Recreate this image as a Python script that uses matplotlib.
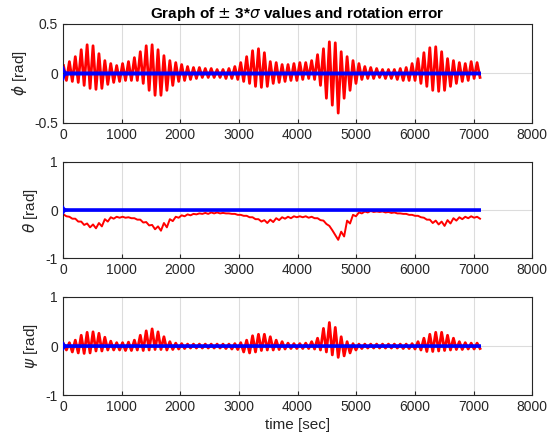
import numpy as np
import matplotlib
matplotlib.use("Agg")
import matplotlib.pyplot as plt

plt.rcParams['font.family'] = ['Liberation Sans', 'DejaVu Sans']
plt.rcParams['mathtext.fontset'] = 'dejavusans'

# one oscillation cycle ~100 s; peaks (upper) and troughs (lower) read per cycle
t_end = 7100
n_cycles = 71

phi_upper = [0.08, 0.12, 0.17, 0.24, 0.29, 0.28, 0.20, 0.13, 0.10, 0.08,
             0.10, 0.12, 0.16, 0.22, 0.28, 0.29, 0.24, 0.18, 0.13, 0.11,
             0.09, 0.07, 0.06, 0.06, 0.05, 0.05, 0.04, 0.04, 0.05, 0.07,
             0.11, 0.17, 0.23, 0.25, 0.21, 0.12, 0.11, 0.09, 0.09, 0.10,
             0.11, 0.11, 0.13, 0.19, 0.25, 0.32, 0.31, 0.22, 0.17, 0.13,
             0.10, 0.07, 0.06, 0.05, 0.04, 0.04, 0.04, 0.05, 0.06, 0.10,
             0.15, 0.21, 0.26, 0.27, 0.22, 0.15, 0.13, 0.11, 0.10, 0.12, 0.11]
phi_lower = [-0.07, -0.08, -0.09, -0.12, -0.15, -0.16, -0.15, -0.11, -0.09, -0.08,
             -0.07, -0.07, -0.07, -0.10, -0.17, -0.22, -0.22, -0.17, -0.12, -0.08,
             -0.07, -0.06, -0.05, -0.04, -0.04, -0.04, -0.04, -0.05, -0.05, -0.06,
             -0.08, -0.10, -0.13, -0.14, -0.13, -0.10, -0.09, -0.08, -0.07, -0.07,
             -0.06, -0.05, -0.06, -0.12, -0.25, -0.32, -0.40, -0.25, -0.17, -0.10,
             -0.06, -0.05, -0.05, -0.04, -0.05, -0.05, -0.06, -0.07, -0.07, -0.07,
             -0.10, -0.13, -0.17, -0.18, -0.17, -0.13, -0.10, -0.08, -0.07, -0.05, -0.04]

theta_upper = [-0.09, -0.14, -0.18, -0.24, -0.28, -0.30, -0.27, -0.19, -0.15, -0.14,
               -0.14, -0.15, -0.17, -0.20, -0.25, -0.31, -0.34, -0.27, -0.19, -0.14,
               -0.11, -0.09, -0.08, -0.07, -0.06, -0.05, -0.05, -0.06, -0.07, -0.08,
               -0.10, -0.12, -0.15, -0.19, -0.21, -0.20, -0.17, -0.15, -0.14, -0.13,
               -0.13, -0.13, -0.14, -0.17, -0.22, -0.33, -0.52, -0.45, -0.22, -0.10,
               -0.05, -0.03, -0.02, -0.03, -0.03, -0.04, -0.05, -0.07, -0.08, -0.10,
               -0.12, -0.16, -0.20, -0.22, -0.24, -0.21, -0.17, -0.15, -0.14, -0.13, -0.14]
theta_lower = [-0.13, -0.18, -0.24, -0.31, -0.36, -0.38, -0.34, -0.24, -0.18, -0.16,
               -0.16, -0.17, -0.20, -0.26, -0.32, -0.40, -0.43, -0.36, -0.23, -0.16,
               -0.13, -0.11, -0.09, -0.08, -0.08, -0.07, -0.07, -0.07, -0.08, -0.10,
               -0.12, -0.15, -0.19, -0.24, -0.27, -0.25, -0.21, -0.18, -0.17, -0.15,
               -0.15, -0.16, -0.17, -0.21, -0.29, -0.42, -0.62, -0.55, -0.28, -0.13,
               -0.07, -0.05, -0.04, -0.04, -0.05, -0.06, -0.07, -0.08, -0.10, -0.12,
               -0.15, -0.20, -0.27, -0.30, -0.33, -0.28, -0.22, -0.19, -0.17, -0.16, -0.18]

psi_upper = [0.05, 0.07, 0.12, 0.22, 0.28, 0.29, 0.26, 0.18, 0.10, 0.07,
             0.07, 0.08, 0.12, 0.22, 0.31, 0.35, 0.29, 0.19, 0.09, 0.06,
             0.05, 0.04, 0.04, 0.04, 0.04, 0.04, 0.04, 0.04, 0.04, 0.05,
             0.07, 0.12, 0.21, 0.24, 0.24, 0.19, 0.12, 0.09, 0.06, 0.05,
             0.05, 0.06, 0.09, 0.16, 0.36, 0.48, 0.38, 0.19, 0.09, 0.05,
             0.04, 0.04, 0.04, 0.04, 0.04, 0.04, 0.04, 0.04, 0.04, 0.05,
             0.09, 0.16, 0.24, 0.28, 0.28, 0.22, 0.16, 0.09, 0.07, 0.06, 0.06]
psi_lower = [-0.08, -0.12, -0.14, -0.15, -0.14, -0.10, -0.10, -0.08, -0.08, -0.08,
             -0.09, -0.09, -0.08, -0.09, -0.08, -0.07, -0.07, -0.08, -0.07, -0.06,
             -0.05, -0.04, -0.04, -0.04, -0.04, -0.04, -0.04, -0.05, -0.06, -0.07,
             -0.12, -0.14, -0.12, -0.09, -0.08, -0.08, -0.07, -0.06, -0.05, -0.05,
             -0.05, -0.05, -0.06, -0.08, -0.12, -0.18, -0.23, -0.20, -0.14, -0.08,
             -0.05, -0.04, -0.04, -0.04, -0.04, -0.04, -0.04, -0.05, -0.05, -0.06,
             -0.08, -0.11, -0.11, -0.10, -0.09, -0.08, -0.07, -0.07, -0.06, -0.06, -0.05]

# 3-sigma bound (same for all axes)
sigma_t = [0, 15, 40, 100, 7100]
sigma_val = [0.055, 0.025, 0.008, 0.005, 0.004]

labels = [r'$\phi$ [rad]', r'$\theta$ [rad]', r'$\psi$ [rad]']
ylims = [(-0.5, 0.5), (-1, 1), (-1, 1)]
yticks = [[-0.5, 0, 0.5], [-1, 0, 1], [-1, 0, 1]]
series = [(phi_upper, phi_lower, 2.0), (theta_upper, theta_lower, 1.4),
          (psi_upper, psi_lower, 2.0)]

# peak times and trough times interleaved
t_peak = np.linspace(10, 7060, n_cycles)
t_zig = np.empty(2 * n_cycles)
t_zig[0::2] = t_peak
t_zig[1::2] = t_peak + 50

txt = '#262626'
fig = plt.figure(figsize=(5.47, 4.45), dpi=100)
boxes = [[0.115, 0.7236, 0.858, 0.2225],
         [0.115, 0.420, 0.858, 0.216],
         [0.115, 0.112, 0.858, 0.2206]]

for i, (up, lo, lw) in enumerate(series):
    ax = fig.add_axes(boxes[i])
    y = np.empty(2 * n_cycles)
    y[0::2] = up
    y[1::2] = lo
    ax.plot(t_zig, y, color='red', lw=lw, zorder=2)
    ax.plot(sigma_t, sigma_val, color='blue', lw=2.2, zorder=3)
    ax.plot(sigma_t, -np.array(sigma_val), color='blue', lw=2.2, zorder=3)
    ax.set_xlim(0, 8000)
    ax.set_ylim(*ylims[i])
    ax.set_xticks(range(0, 8001, 1000))
    ax.set_yticks(yticks[i])
    ax.set_yticklabels([f'{v:g}' for v in yticks[i]])
    ax.grid(True, color='#dcdcdc', lw=0.8)
    ax.set_axisbelow(True)
    ax.tick_params(direction='in', length=3, labelsize=10, colors=txt,
                   labelcolor=txt)
    for s in ax.spines.values():
        s.set_color(txt)
        s.set_linewidth(0.8)
    ax.set_ylabel(labels[i], fontsize=11, color=txt, labelpad=4)
    if i == 0:
        ax.set_title(r'Graph of $\pm$ 3*$\sigma$ values and rotation error',
                     fontsize=11, fontweight='bold', color='black', pad=4)
    if i == 2:
        ax.set_xlabel('time [sec]', fontsize=11, color=txt, labelpad=3)

fig.savefig('out.png', dpi=100)
